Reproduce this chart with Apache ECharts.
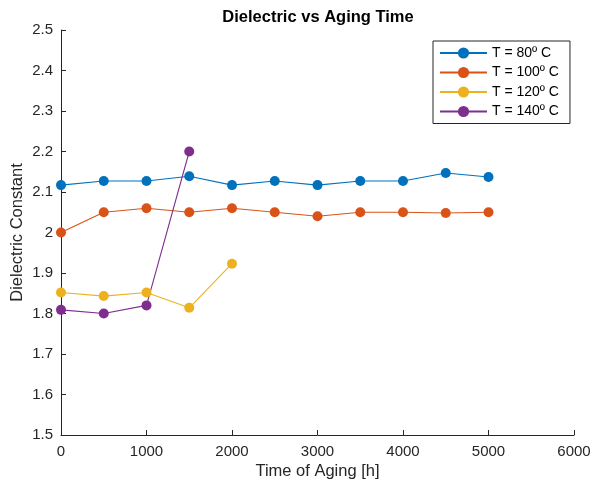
<!DOCTYPE html>
<html>
<head>
<meta charset="utf-8">
<script src="https://cdn.jsdelivr.net/npm/echarts@6/dist/echarts.min.js"></script>
<style>
  html, body { margin: 0; padding: 0; background: #fff; }
  #chart { width: 592px; height: 487px; }
</style>
</head>
<body>
<div id="chart"></div>
<script>
const hours = [0, 500, 1000, 1500, 2000, 2500, 3000, 3500, 4000, 4500, 5000];
const t80 = [2.117, 2.127, 2.127, 2.139, 2.117, 2.127, 2.117, 2.127, 2.127, 2.147, 2.137];
const t100 = [2.0, 2.05, 2.06, 2.05, 2.06, 2.05, 2.04, 2.05, 2.05, 2.048, 2.05];
const t120 = [1.852, 1.843, 1.852, 1.814, 1.923];
const t140 = [1.809, 1.8, 1.82, 2.2];
const seriesNames = ['T = 80º C', 'T = 100º C', 'T = 120º C', 'T = 140º C'];
const colors = ['#0072BD', '#D95319', '#EDB120', '#7E2F8E'];

const font = '"Liberation Sans", Arial, sans-serif';
const ink = '#262626';

function pairs(vals) {
  return vals.map(function (v, i) { return [hours[i], v]; });
}

function buildSeries() {
  return [t80, t100, t120, t140].map(function (vals, i) {
    return {
      name: seriesNames[i],
      type: 'line',
      data: pairs(vals),
      symbol: 'circle',
      symbolSize: 10,
      color: colors[i],
      lineStyle: { width: 1.1, color: colors[i] },
      itemStyle: { color: colors[i] },
      emphasis: { disabled: true },
      animation: false
    };
  });
}

let chart = echarts.init(document.getElementById('chart'));
chart.setOption({
  animation: false,
  textStyle: { fontFamily: font },
  title: {
    text: 'Dielectric vs Aging Time',
    left: 318,
    textAlign: 'center',
    top: 9,
    padding: 0,
    textStyle: { fontSize: 16.5, fontWeight: 'bold', color: '#000', fontFamily: font }
  },
  legend: {
    orient: 'vertical',
    left: 433,
    top: 41,
    itemWidth: 47,
    itemHeight: 14,
    itemGap: 5.5,
    padding: [5, 11, 5, 6],
    borderColor: ink,
    borderWidth: 1,
    backgroundColor: '#fff',
    textStyle: { fontSize: 14, color: '#000', fontFamily: font },
    data: seriesNames
  },
  grid: { left: 61, right: 18, top: 30, bottom: 52, containLabel: false, outerBoundsMode: 'none' },
  xAxis: {
    type: 'value',
    min: 0,
    max: 6000,
    interval: 1000,
    name: 'Time of Aging [h]',
    nameLocation: 'middle',
    nameGap: 28,
    nameMoveOverlap: false,
    nameTextStyle: { fontSize: 16.5, color: ink, fontFamily: font },
    axisLine: { lineStyle: { color: ink, width: 1 } },
    axisTick: { inside: true, length: 5, lineStyle: { color: ink } },
    axisLabel: {
      fontSize: 15, color: ink, margin: 9, fontFamily: font,
      formatter: function (v) { return String(v); }
    },
    splitLine: { show: false }
  },
  yAxis: {
    type: 'value',
    min: 1.5,
    max: 2.5,
    interval: 0.1,
    name: 'Dielectric Constant',
    nameLocation: 'middle',
    nameGap: 35,
    nameMoveOverlap: false,
    nameTextStyle: { fontSize: 16.5, color: ink, fontFamily: font },
    axisLine: { show: true, lineStyle: { color: ink, width: 1 } },
    axisTick: { show: true, inside: true, length: 5, lineStyle: { color: ink } },
    axisLabel: {
      fontSize: 15, color: ink, margin: 8, fontFamily: font,
      formatter: function (v) { return String(Math.round(v * 10) / 10); }
    },
    splitLine: { show: false }
  },
  series: buildSeries()
});
</script>
</body>
</html>
